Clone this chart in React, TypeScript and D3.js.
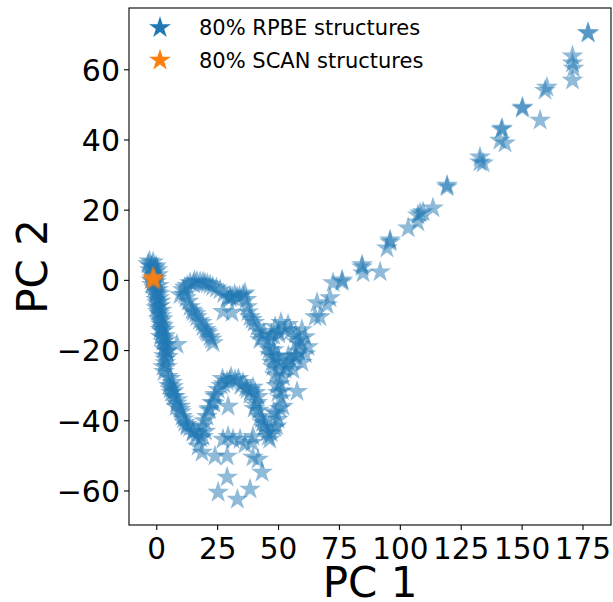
import React from 'react';
import * as d3 from 'd3';

// PCA projection, PC 1 / PC 2 values
const rpbeX = [
  // column near the origin
  -3.6, -1.9, -0.3, -2.8, -0.7, 0.5, -2.3, -0.3, -1.1, 0.5, -0.7, 0.9, 0.1, 1.4, 0.5, 1.8, 1.4, 2.6, 2.2, 3.4, 2.6, 4.2,
  -2.2, -1.0, -2.0, 0.0, -0.2, 1.0, 2.0, 1.6, 3.0, -3.0, -1.5,
  -2.5, -0.8, 0.2, -1.8, -0.2, -1.5, 0.8, -0.5, 1.2, -0.3, 1.5, 0.6, 2.0, 0.8, 2.4, 1.8, 3.2, 1.5, 2.8, 3.8, 3.2, 4.0,
  3.0, 3.5,
  8.3, 4.2, 4.6,
  // lower left loop
  2.6, 4.6, 4.2, 6.3, 6.7, 7.5, 6.7, 9.6, 9.6, 10.4, 12.4, 12.4, 14.9, 14.9, 19.0, 18.6, 20.6, 22.7, 25.2, 28.9,
  32.1, 35.4, 37.1, 39.5, 41.2, 41.6, 42.4, 45.3, 46.4, 49.8, 51.8, 49.8, 47.7, 53.5,
  27.0, 30.5, 38.2, 40.0, 43.5, 44.0, 50.5, 51.5, 48.0, 49.2, 17.0, 21.5, 23.8, 11.0, 8.2, 5.5, 3.5,
  3.0, 5.5, 5.0, 7.0, 6.0, 8.5, 8.0, 10.0, 11.5, 13.5, 16.0, 18.0, 20.0, 19.5, 21.5, 23.5, 24.0, 26.5, 27.5, 30.0,
  33.5, 34.5, 36.5, 38.5, 40.5, 40.5, 41.8, 43.0, 44.5, 45.8, 47.0, 48.5, 49.0, 50.5, 51.0, 49.0, 48.5, 50.0, 52.0,
  // lower scattered
  17.0, 18.6, 23.9, 28.9, 29.3, 27.2, 34.2, 39.1, 28.9, 25.2, 33.1, 38.3, 41.6, 43.2, 29.3, 31.3, 36.2, 39.5, 39.5, 57.6,
  // upper hook
  10.8, 13.7, 17.8, 21.9, 26.0, 28.9, 33.0, 35.4, 36.2, 37.1, 38.3, 39.1, 41.2, 43.2, 13.7, 16.5, 19.0, 21.9, 23.1, 30.9,
  9.6, 15.5, 19.8, 12.0, 15.0, 20.5,
  11.5, 12.5, 15.0, 16.5, 19.0, 20.8, 23.0, 24.5, 27.5, 30.0, 32.0, 34.0, 36.8, 37.5, 40.0, 42.0, 11.5, 13.0, 14.5,
  16.0, 17.5, 18.5, 20.0, 21.0, 22.5, 44.0,
  27.2, 30.1, 42.4, 30.9,
  // ring
  48.6, 53.9, 59.6, 62.1, 59.6, 52.7, 47.3, 45.3, 56.8, 49.8, 52.7, 46.5, 58.8, 53.9, 51.0, 61.0, 56.0, 47.0,
  58.5, 57.0, 55.0, 50.0, 48.0, 46.5, 46.2, 48.3, 50.2, 55.1, 57.2, 58.3,
  57.4, 50.0, 48.0, 54.0,
  // diagonal branch
  60.9, 65.0, 67.0, 65.8, 69.9, 71.1, 72.4, 76.1, 76.1, 84.3, 84.7, 84.3, 91.7, 95.8, 94.5, 95.8, 103.2, 107.2, 107.2,
  108.1, 109.3, 113.4, 119.2, 119.2, 132.7, 132.7, 134.0, 141.8, 141.5, 143.0, 140.9, 150.2, 150.0, 157.4, 160.2, 159.4,
  170.7, 170.7, 171.1, 170.7, 177.0, 177.2,
];
const rpbeY = [
  4.7, 4.1, 4.1, 3.0, 2.4, 1.6, 0.1, -0.4, -2.1, -2.7, -4.1, -5.0, -6.4, -7.2, -8.9, -10.1, -11.8, -12.9, -14.6, -15.8, -17.5, -18.3,
  2.0, 0.8, -1.2, -3.5, -7.8, -9.5, -13.5, -16.0, -19.5, 5.5, 5.2,
  4.0, 3.5, 3.0, 1.5, 0.5, -0.5, -1.5, -2.8, -3.8, -5.5, -6.0, -7.5, -8.5, -11.0, -11.0, -12.5, -14.0, -14.0, -16.5, -17.0, -18.5, -20.0,
  -21.5, -23.5,
  -18.3, -20.3, -21.7,
  -24.6, -27.4, -24.6, -29.1, -30.3, -33.1, -33.1, -35.9, -36.8, -38.8, -41.1, -41.6, -43.0, -43.3, -44.5, -41.6, -38.8, -34.8, -31.1, -28.8,
  -28.3, -29.1, -31.1, -30.5, -34.8, -33.1, -38.8, -43.3, -45.3, -39.6, -35.9, -32.0, -24.6, -24.6,
  -28.0, -27.5, -32.5, -36.5, -40.5, -42.0, -29.5, -31.5, -37.5, -41.5, -43.5, -37.0, -33.0, -39.5, -35.0, -31.0, -22.5,
  -26.0, -28.0, -30.0, -31.5, -32.0, -34.0, -36.0, -37.5, -40.5, -42.0, -44.5, -45.0, -43.0, -40.0, -36.5, -35.0, -32.5, -30.0, -29.5, -28.5,
  -28.0, -30.0, -30.5, -31.5, -32.0, -35.5, -37.0, -39.5, -41.0, -44.5, -43.5, -42.0, -38.0, -36.5, -33.5, -30.0, -27.0, -25.5, -27.5,
  -47.3, -49.0, -50.1, -50.1, -44.5, -45.3, -45.3, -46.2, -56.1, -60.4, -62.4, -59.5, -51.0, -54.7, -35.9, -45.3, -46.7, -44.5, -50.4, -31.7,
  -2.7, -0.7, -0.4, -1.3, -2.7, -5.0, -4.7, -4.1, -3.6, -7.5, -10.4, -11.2, -13.2, -16.1, -7.5, -10.4, -13.2, -16.1, -17.8, -4.7,
  -4.1, -0.2, -0.8, -5.0, -9.0, -14.5,
  -2.0, -1.5, -1.0, -0.3, -0.5, -1.0, -1.8, -2.2, -3.8, -4.5, -4.0, -4.5, -5.5, -9.0, -12.0, -14.5, -4.0, -6.0, -8.5,
  -9.5, -11.5, -12.0, -14.0, -15.0, -16.8, -15.0,
  -8.9, -5.0, -16.9, -9.2,
  -13.2, -12.6, -14.1, -18.9, -23.4, -25.4, -23.4, -18.9, -21.7, -21.7, -14.1, -21.2, -18.3, -23.2, -12.0, -21.0, -25.5, -15.5,
  -16.8, -15.3, -14.4, -14.6, -15.7, -17.0, -19.8, -21.8, -22.9, -22.6, -21.4, -20.2,
  -17.5, -15.3, -19.8, -21.5,
  -16.1, -10.4, -10.4, -6.4, -7.0, -5.0, -0.7, -0.4, 0.1, 4.4, 2.1, 3.8, 2.4, 10.9, 9.2, 11.5, 14.9, 16.6, 18.6,
  19.2, 19.5, 20.6, 26.6, 27.1, 35.1, 33.7, 33.4, 43.3, 43.0, 39.1, 39.9, 49.3, 49.0, 45.6, 55.0, 54.1,
  63.9, 61.9, 60.4, 57.0, 70.6, 70.4,
];
const scanX = [-1.8, -1.0, -1.5, -1.2, -1.6];
const scanY = [0.8, 0.2, -0.2, 0.9, 0.3];

const xTicks = [0, 25, 50, 75, 100, 125, 150, 175];
const yTicks = [-60, -40, -20, 0, 20, 40, 60];
const xLimits = [-11.4, 186.5];
const yLimits = [-69.7, 77.6];
const legendLabels = ['80% RPBE structures', '80% SCAN structures'];
const seriesColors = ['#1f77b4', '#ff7f0e'];

const W = 613;
const H = 602;
const box = { left: 129, right: 611, top: 8, bottom: 525 };
const font = 'DejaVu Sans, sans-serif';

export default function App() {
  const x = d3.scaleLinear().domain(xLimits).range([box.left, box.right]);
  const y = d3.scaleLinear().domain(yLimits).range([box.bottom, box.top]);
  const star = d3.symbol(d3.symbolStar, (11.5 * 11.5) / 0.8908)();
  const legendStar = d3.symbol(d3.symbolStar, (11.5 * 11.5) / 0.8908)();
  const fmt = (v: number) => (v < 0 ? '\u2212' + Math.abs(v) : String(v));

  const series = [
    { xs: rpbeX, ys: rpbeY, color: seriesColors[0] },
    { xs: scanX, ys: scanY, color: seriesColors[1] },
  ];

  return (
    <svg width={W} height={H} style={{ position: 'absolute', left: 0, top: 0, background: '#fff' }}>
      <rect width={W} height={H} fill="#fff" />
      <defs>
        <clipPath id="plotArea">
          <rect x={box.left} y={box.top} width={box.right - box.left} height={box.bottom - box.top} />
        </clipPath>
      </defs>
      <g clipPath="url(#plotArea)">
        {series.map((s, si) => (
          <g key={si} fill={s.color} fillOpacity={0.5}>
            {s.xs.map((v, i) => (
              <path key={i} d={star} transform={`translate(${x(v)},${y(s.ys[i])})`} />
            ))}
          </g>
        ))}
      </g>

      {/* frame */}
      <rect x={box.left} y={box.top} width={box.right - box.left} height={box.bottom - box.top}
        fill="none" stroke="#000" strokeWidth={1.1} />

      {/* x axis */}
      {xTicks.map((t) => (
        <g key={t}>
          <line x1={x(t)} x2={x(t)} y1={box.bottom} y2={box.bottom + 5} stroke="#000" strokeWidth={1.1} />
          <text x={x(t)} y={559} textAnchor="middle" fontFamily={font} fontSize={29.5}>{fmt(t)}</text>
        </g>
      ))}
      {/* y axis */}
      {yTicks.map((t) => (
        <g key={t}>
          <line x1={box.left - 5} x2={box.left} y1={y(t)} y2={y(t)} stroke="#000" strokeWidth={1.1} />
          <text x={box.left - 9} y={y(t)} dy="0.36em" textAnchor="end" fontFamily={font} fontSize={30}>{fmt(t)}</text>
        </g>
      ))}

      <text x={(box.left + box.right) / 2} y={597} textAnchor="middle" fontFamily={font} fontSize={42}>PC 1</text>
      <text transform={`translate(47,${(box.top + box.bottom) / 2}) rotate(-90)`} textAnchor="middle"
        fontFamily={font} fontSize={42}>PC 2</text>

      {/* legend */}
      {legendLabels.map((label, i) => (
        <g key={label}>
          <path d={legendStar} transform={`translate(160,${27.7 + i * 32.5})`} fill={seriesColors[i]} />
          <text x={199} y={35 + i * 32.5} fontFamily={font} fontSize={21}>{label}</text>
        </g>
      ))}
    </svg>
  );
}
